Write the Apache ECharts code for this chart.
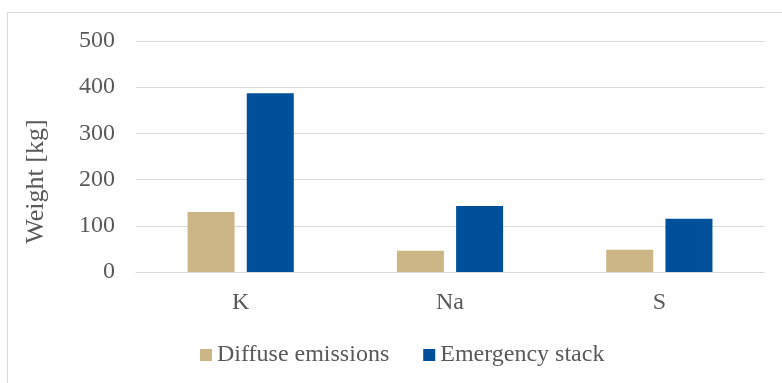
<!DOCTYPE html>
<html>
<head>
<meta charset="utf-8">
<script src="https://cdn.jsdelivr.net/npm/echarts@6/dist/echarts.min.js"></script>
<style>
  html, body { margin: 0; padding: 0; background: #fff; }
  #chart { width: 782px; height: 383px; }
</style>
</head>
<body>
<div id="chart"></div>
<script>
// Emission weights by element
const categories = ['K', 'Na', 'S'];
const diffuseEmissions = [130, 46, 48];
const emergencyStack = [387, 143, 115];
const yTicks = [0, 100, 200, 300, 400, 500];

const serif = '"Liberation Serif", "Times New Roman", serif';
const textGray = '#595959';

const chart = echarts.init(document.getElementById('chart'), null, { renderer: 'canvas' });
chart.setOption({
  animation: false,
  backgroundColor: '#fff',
  graphic: [
    { type: 'line', shape: { x1: 7, y1: 12.5, x2: 782, y2: 12.5 }, style: { stroke: '#d9d9d9', lineWidth: 1 } },
    { type: 'line', shape: { x1: 7.5, y1: 12, x2: 7.5, y2: 383 }, style: { stroke: '#d9d9d9', lineWidth: 1 } }
  ],
  grid: { left: 136, right: 18, top: 41, bottom: 111 },
  legend: {
    bottom: 11,
    left: 195,
    itemWidth: 12,
    itemHeight: 12,
    itemGap: 34,
    icon: 'rect',
    textStyle: { fontFamily: serif, fontSize: 24, color: textGray },
    data: ['Diffuse emissions', 'Emergency stack']
  },
  xAxis: {
    type: 'category',
    data: categories,
    axisLine: { lineStyle: { color: '#d9d9d9', width: 1 } },
    axisTick: { show: false },
    axisLabel: { fontFamily: serif, fontSize: 24, color: textGray, margin: 19 }
  },
  yAxis: {
    type: 'value',
    min: yTicks[0],
    max: yTicks[yTicks.length - 1],
    interval: 100,
    name: 'Weight [kg]',
    nameLocation: 'middle',
    nameGap: 87,
    nameTextStyle: { fontFamily: serif, fontSize: 26, color: textGray, padding: [0, 50, 0, 0] },
    axisLine: { show: false },
    axisTick: { show: false },
    axisLabel: { fontFamily: serif, fontSize: 24, color: textGray, margin: 21 },
    splitLine: { lineStyle: { color: '#d9d9d9', width: 1 } }
  },
  series: [
    {
      name: 'Diffuse emissions',
      type: 'bar',
      data: diffuseEmissions,
      barWidth: 47,
      barGap: '26%',
      itemStyle: { color: '#cdb685' }
    },
    {
      name: 'Emergency stack',
      type: 'bar',
      data: emergencyStack,
      barWidth: 47,
      barGap: '26%',
      itemStyle: { color: '#004f9b' }
    }
  ]
});
</script>
</body>
</html>
